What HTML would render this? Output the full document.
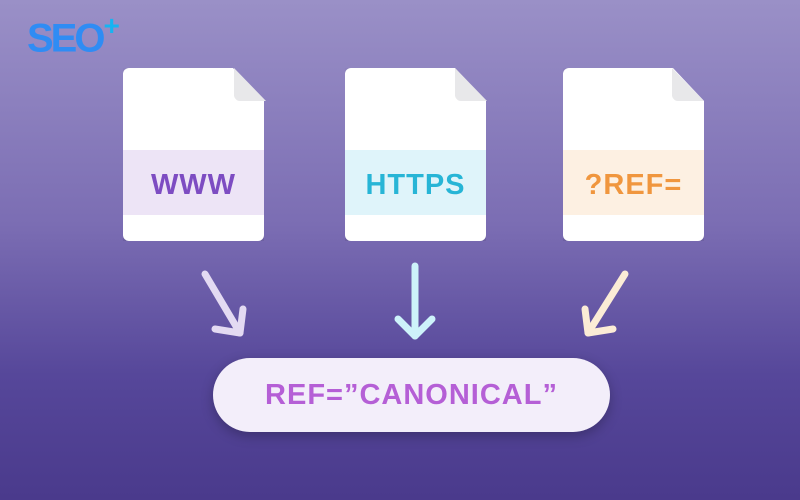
<!DOCTYPE html>
<html><head><meta charset="utf-8"><style>
body{margin:0;width:800px;height:500px;overflow:hidden;background:linear-gradient(180deg,#9a90c7 0%,#7b6db3 45%,#56479a 75%,#4a3a8c 100%);font-family:"Liberation Sans",sans-serif;position:relative}
.doc{position:absolute;top:68px;width:141px;height:173px;background:#fff;border-radius:6px;clip-path:polygon(0 0,78% 0,100% 19%,100% 100%,0 100%);box-shadow:0 4px 10px rgba(0,0,0,.2)}
.fold{position:absolute;top:68px;width:32px;height:33px;background:#e8e8ea;clip-path:polygon(0 0,100% 100%,10% 100%,0 88%);border-bottom-left-radius:6px}
.band{position:absolute;left:0;right:0;top:82px;height:65px;padding-top:6px;box-sizing:border-box;display:flex;align-items:center;justify-content:center;font-weight:bold;font-size:29px;letter-spacing:1px}
.pill{position:absolute;left:213px;top:358px;width:397px;height:74px;border-radius:37px;background:#f3eefa;box-shadow:0 4px 12px rgba(0,0,0,.25);display:flex;align-items:center;justify-content:center;font-weight:bold;font-size:29px;color:#b55fd6;letter-spacing:1px}
.logo{position:absolute;left:27px;top:12px;font-weight:900;font-size:40px;color:#2f8cf4;letter-spacing:-3px}
.logo sup{font-size:28px;color:#16b4f2;position:relative;top:-2px;margin-left:1px}
</style></head><body>
<div class="logo">SEO<sup>+</sup></div>
<div class="doc" style="left:123px"><div class="band" style="background:#ede4f6;color:#7d4cc2">WWW</div></div>
<div class="fold" style="left:234px"></div>
<div class="doc" style="left:345px"><div class="band" style="background:#dff4fa;color:#27b5d6">HTTPS</div></div>
<div class="fold" style="left:455px"></div>
<div class="doc" style="left:563px"><div class="band" style="background:#fdf0e2;color:#f0963e">?REF=</div></div>
<div class="fold" style="left:672px"></div>
<svg width="800" height="500" style="position:absolute;left:0;top:0" fill="none" stroke-linecap="round" stroke-linejoin="round" stroke-width="7">
<g stroke="#e3daf2"><path d="M205 274 L240 333"/><path d="M215 329 L240 333 L243 309"/></g>
<g stroke="#cdf3fa"><path d="M415 266 L415 336"/><path d="M398 319 L415 336 L432 319"/></g>
<g stroke="#fbecd6"><path d="M625 274 L588 333"/><path d="M585 309 L588 333 L613 329"/></g>
</svg>
<div class="pill">REF=”CANONICAL”</div>
</body></html>
